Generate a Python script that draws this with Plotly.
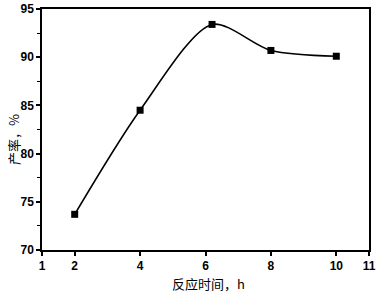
import plotly.graph_objects as go

time_h = [2, 4, 6.2, 8, 10]
yield_pct = [73.7, 84.5, 93.4, 90.7, 90.1]
x_ticks = [1, 2, 4, 6, 8, 10, 11]
y_ticks = [70, 75, 80, 85, 90, 95]

fig = go.Figure()
fig.add_trace(go.Scatter(
    x=time_h, y=yield_pct, mode="lines",
    line=dict(color="black", width=1.6, shape="spline", smoothing=0.8),
    hoverinfo="skip", showlegend=False))
fig.add_trace(go.Scatter(
    x=time_h, y=yield_pct, mode="markers",
    marker=dict(symbol="square", size=7, color="black"),
    showlegend=False))

tf = dict(family="Liberation Sans, Arial", size=12, color="black", weight="bold")
titlefont = dict(family="Noto Sans CJK SC", size=13, color="black")
fig.update_layout(
    width=378, height=293,
    margin=dict(l=42, r=9, t=9, b=43, autoexpand=False),
    paper_bgcolor="white", plot_bgcolor="white",
    xaxis=dict(range=[1, 11], tickvals=x_ticks, ticktext=[str(v) for v in x_ticks],
               ticks="outside", ticklen=4, tickwidth=1.5, tickcolor="black",
               showline=True, linecolor="black", linewidth=1.5, mirror=True,
               showgrid=False, zeroline=False, automargin=False, tickfont=tf),
    yaxis=dict(range=[70, 95], tickvals=y_ticks,
               ticks="outside", ticklen=4, tickwidth=1.5, tickcolor="black",
               minor=dict(dtick=2.5, tick0=70, ticks="outside", ticklen=3, tickwidth=1, tickcolor="black"),
               showline=True, linecolor="black", linewidth=1.5, mirror=True,
               showgrid=False, zeroline=False, automargin=False, tickfont=tf),
    annotations=[
        dict(text="反应时间，h", xref="paper", yref="paper", x=0.508, y=0,
             xanchor="center", yanchor="middle", yshift=-33, showarrow=False, font=titlefont),
        dict(text="产率，%", xref="paper", yref="paper", x=0, y=0.456,
             xanchor="center", yanchor="middle", xshift=-29, textangle=-90,
             showarrow=False, font=titlefont),
    ],
)
fig.write_html("out.html", config={"displayModeBar": False},
               post_script="document.body.style.margin='0';")
